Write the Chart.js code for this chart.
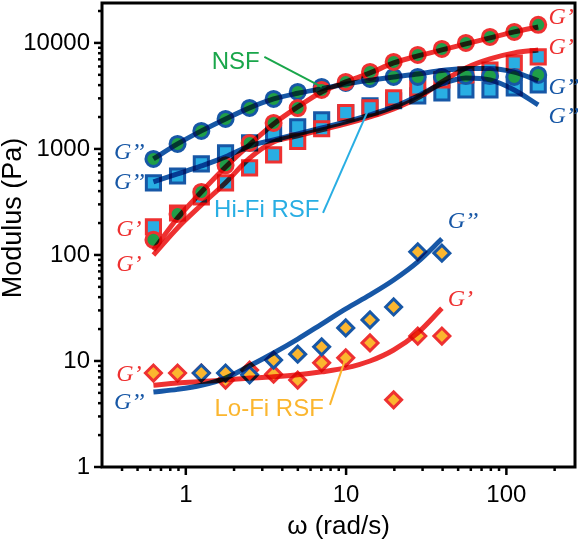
<!DOCTYPE html>
<html>
<head>
<meta charset="utf-8">
<script src="https://cdn.jsdelivr.net/npm/chart.js@4.4.1/dist/chart.umd.min.js"></script>
<style>
  html, body { margin: 0; padding: 0; background: #fff; }
</style>
</head>
<body>
<canvas id="modulus-chart" width="578" height="542"></canvas>
<script>
// angular frequency (rad/s)
const omega = [0.628, 0.888, 1.25, 1.77, 2.5, 3.53, 4.99, 7.04, 9.95, 14.1, 19.8, 28, 39.6, 55.9, 79, 112, 158];
const omegaLoFi = [0.628, 0.888, 1.25, 1.77, 2.5, 3.53, 4.99, 7.04, 9.95, 14.1, 19.8, 28, 39.6];

// NSF measured G' / G''
const nsfG1 = [139, 244, 393, 700, 1140, 1758, 2430, 3600, 4285, 5325, 6620, 7710, 8780, 10000, 11400, 12700, 14800];
const nsfG2 = [805, 1115, 1479, 1920, 2437, 2965, 3450, 3845, 4195, 4570, 4780, 4780, 4780, 4885, 4885, 4780, 4990];
// Hi-Fi RSF measured
const hifiG1 = [184, 249, 352, 478, 662, 878, 1180, 1550, 2200, 2437, 3030, 3760, 4480, 4990, 5560, 6470, 7380];
const hifiG2 = [478, 556, 722, 920, 1140, 1400, 1613, 1878, 2186, 2550, 2850, 3162, 3375, 3604, 3604, 3760, 4016];
// Lo-Fi RSF measured
const lofiG1 = [7.7, 7.7, 7.7, 6.6, 8.2, 7.5, 6.6, 9.6, 10.7, 14.8, 4.3, 17.2, 17.2];
const lofiG2 = [null, null, 7.7, 7.7, 7.4, 10.2, 11.6, 13.6, 20.5, 24.4, 32.3, 107, 104];

// model curves
const nsfG1Fit = [111, 223, 393, 676, 1100, 1720, 2490, 3450, 4285, 5210, 6470, 7540, 8590, 9800, 11150, 12700, 14150];
const nsfG2Fit = [805, 1115, 1480, 1920, 2440, 2960, 3350, 3700, 4100, 4450, 4780, 5100, 5500, 5750, 5750, 5300, 4400];
const hifiG1Fit = [100, 180, 296, 480, 820, 1164, 1327, 1511, 1721, 2004, 2384, 3030, 4285, 5808, 7063, 8050, 8590];
const hifiG2Fit = [489, 581, 691, 841, 1067, 1216, 1385, 1578, 1798, 2094, 2490, 3162, 4105, 4677, 4480, 3600, 2600];
const lofiG1Fit = [5.9, 6.2, 6.4, 6.6, 6.9, 7.1, 7.4, 7.9, 8.6, 10, 12.7, 18.4, 31.4];
const lofiG2Fit = [5.1, 5.4, 5.9, 6.9, 9.0, 11.9, 16.1, 22.3, 31, 42, 58, 86, 142];

const RED = '#ee3131';
const BLUE = '#1757a6';
const GREEN = '#1f9e48';
const LIGHTBLUE = '#29aee3';
const ORANGE = '#fbb62f';
const SANS = '"Liberation Sans", Arial, sans-serif';

function pts(xs, ys) {
  return xs.map((x, i) => ({x: x, y: ys[i]})).filter(p => p.y != null);
}

function isMajor(v) {
  const l = Math.log10(v);
  return Math.abs(l - Math.round(l)) < 1e-6;
}

// minor + major tick positions for a log axis
function logTicks(min, max) {
  const out = [];
  for (let e = Math.floor(Math.log10(min)); e <= Math.ceil(Math.log10(max)); e++) {
    for (let m = 1; m <= 9; m++) {
      const v = +(m * Math.pow(10, e)).toPrecision(6);
      if (v >= min && v <= max) out.push({value: v, major: isMajor(v)});
    }
  }
  return out;
}

function markers(label, xs, ys, style, radius, fill, edge, order) {
  return {
    label: label,
    data: pts(xs, ys),
    showLine: false,
    pointStyle: style,
    pointRadius: radius,
    pointBackgroundColor: fill,
    pointBorderColor: edge,
    pointBorderWidth: 3,
    order: order
  };
}

function curve(label, xs, ys, color) {
  return {
    label: label,
    data: pts(xs, ys),
    showLine: true,
    isFit: true,
    borderColor: color,
    borderWidth: 5,
    pointRadius: 0,
    cubicInterpolationMode: 'monotone',
    order: 0
  };
}

// text notes, anchored in data units
const notes = [
  {text: 'G’’', color: BLUE, x: 0.553, y: 916, align: 'right', serif: true},
  {text: 'G’’', color: BLUE, x: 0.553, y: 477, align: 'right', serif: true},
  {text: 'G’', color: RED, x: 0.53, y: 172, align: 'right', serif: true},
  {text: 'G’', color: RED, x: 0.53, y: 80.5, align: 'right', serif: true},
  {text: 'G’', color: RED, x: 0.53, y: 7.38, align: 'right', serif: true},
  {text: 'G’’', color: BLUE, x: 0.553, y: 4.0, align: 'right', serif: true},
  {text: 'G’', color: RED, x: 183, y: 17200, align: 'left', serif: true},
  {text: 'G’', color: RED, x: 183, y: 8970, align: 'left', serif: true},
  {text: 'G’’', color: BLUE, x: 183, y: 3760, align: 'left', serif: true},
  {text: 'G’’', color: BLUE, x: 183, y: 2004, align: 'left', serif: true},
  {text: 'G’’', color: BLUE, x: 43, y: 205, align: 'left', serif: true},
  {text: 'G’', color: RED, x: 43, y: 37.6, align: 'left', serif: true},
  {text: 'NSF', color: '#1aa64b', x: 2.05, y: 6620, align: 'center'},
  {text: 'Hi-Fi RSF', color: LIGHTBLUE, x: 3.2, y: 266, align: 'center'},
  {text: 'Lo-Fi RSF', color: ORANGE, x: 3.31, y: 3.52, align: 'center'}
];
const leaders = [
  {color: '#1aa64b', from: [3.09, 7380], to: [omega[7], nsfG2[7]]},
  {color: LIGHTBLUE, from: [7.18, 249], to: [omega[9], hifiG2[9]]},
  {color: ORANGE, from: [7.93, 3.85], to: [omegaLoFi[8], lofiG1[8]]}
];

const decorations = {
  id: 'decorations',
  beforeDatasetDraw(chart, args) {
    chart.ctx.save();
    if (chart.data.datasets[args.index].isFit) {
      chart.ctx.globalCompositeOperation = 'multiply';
    }
  },
  afterDatasetDraw(chart) {
    chart.ctx.restore();
  },
  afterDraw(chart) {
    const {ctx, chartArea: a, scales: {x, y}} = chart;
    ctx.save();
    ctx.strokeStyle = '#000';
    ctx.lineWidth = 2.5;
    x.ticks.forEach(t => {
      const px = x.getPixelForValue(t.value);
      ctx.beginPath();
      ctx.moveTo(px, a.bottom);
      ctx.lineTo(px, a.bottom + (isMajor(t.value) ? 8 : 4));
      ctx.stroke();
    });
    y.ticks.forEach(t => {
      const py = y.getPixelForValue(t.value);
      ctx.beginPath();
      ctx.moveTo(a.left, py);
      ctx.lineTo(a.left - (isMajor(t.value) ? 8 : 4), py);
      ctx.stroke();
    });
    ctx.lineWidth = 3;
    ctx.strokeRect(a.left, a.top, a.right - a.left, a.bottom - a.top);

    // y axis title, sitting a little above the axis middle
    ctx.save();
    ctx.translate(14, (a.top + a.bottom) / 2 - 17);
    ctx.rotate(-Math.PI / 2);
    ctx.fillStyle = '#000';
    ctx.font = '27px ' + SANS;
    ctx.textAlign = 'center';
    ctx.textBaseline = 'middle';
    ctx.fillText('Modulus (Pa)', 0, 0);
    ctx.restore();

    ctx.lineWidth = 2;
    leaders.forEach(l => {
      ctx.strokeStyle = l.color;
      ctx.beginPath();
      ctx.moveTo(x.getPixelForValue(l.from[0]), y.getPixelForValue(l.from[1]));
      ctx.lineTo(x.getPixelForValue(l.to[0]), y.getPixelForValue(l.to[1]));
      ctx.stroke();
    });

    ctx.textBaseline = 'middle';
    notes.forEach(n => {
      ctx.font = n.serif ? 'italic 24px "Liberation Serif", "Times New Roman", serif'
                         : '24px ' + SANS;
      ctx.fillStyle = n.color;
      ctx.textAlign = n.align;
      ctx.fillText(n.text, x.getPixelForValue(n.x), y.getPixelForValue(n.y));
    });
    ctx.restore();
  }
};

const ctx = document.getElementById('modulus-chart');
const chart = new Chart(ctx, {
  type: 'scatter',
  data: {
    datasets: [
      curve('NSF G′ fit', omega, nsfG1Fit, RED),
      curve('NSF G″ fit', omega, nsfG2Fit, BLUE),
      curve('Hi-Fi G′ fit', omega, hifiG1Fit, RED),
      curve('Hi-Fi G″ fit', omega, hifiG2Fit, BLUE),
      curve('Lo-Fi G′ fit', omegaLoFi, lofiG1Fit, RED),
      curve('Lo-Fi G″ fit', omegaLoFi, lofiG2Fit, BLUE),
      markers('NSF G′', omega, nsfG1, 'circle', 7.5, GREEN, RED, 1),
      markers('NSF G″', omega, nsfG2, 'circle', 7.5, GREEN, BLUE, 2),
      markers('Lo-Fi G″', omegaLoFi, lofiG2, 'rectRot', 8, ORANGE, BLUE, 3),
      markers('Lo-Fi G′', omegaLoFi, lofiG1, 'rectRot', 8, ORANGE, RED, 4),
      markers('Hi-Fi G′', omega, hifiG1, 'rect', 10, LIGHTBLUE, RED, 5),
      markers('Hi-Fi G″', omega, hifiG2, 'rect', 10, LIGHTBLUE, BLUE, 6)
    ]
  },
  options: {
    responsive: false,
    animation: false,
    layout: {autoPadding: false, padding: {left: 0, right: 3, top: 3, bottom: 0}},
    plugins: {
      legend: {display: false},
      tooltip: {enabled: false}
    },
    scales: {
      x: {
        type: 'logarithmic',
        min: 0.343,
        max: 268,
        afterBuildTicks: s => { s.ticks = logTicks(0.343, 268); },
        afterFit: s => { s.height = 75; s.paddingLeft = 0; s.paddingRight = 0; },
        grid: {display: false, drawTicks: false},
        border: {display: false},
        ticks: {
          autoSkip: false,
          maxRotation: 0,
          padding: 14,
          color: '#000',
          font: {family: SANS, size: 24},
          callback: v => isMajor(v) ? String(Math.round(v)) : ''
        },
        title: {
          display: true,
          text: 'ω (rad/s)',
          color: '#000',
          padding: {top: 0, bottom: 2},
          font: {family: SANS, size: 26, lineHeight: 1}
        }
      },
      y: {
        type: 'logarithmic',
        min: 1,
        max: 23800,
        afterBuildTicks: s => { s.ticks = logTicks(1, 23800); },
        afterFit: s => { s.width = 102; s.paddingTop = 0; s.paddingBottom = 0; },
        grid: {display: false, drawTicks: false},
        border: {display: false},
        ticks: {
          autoSkip: false,
          padding: 12,
          color: '#000',
          font: {family: SANS, size: 24},
          callback: v => isMajor(v) ? String(Math.round(v)) : ''
        }
      }
    }
  },
  plugins: [decorations]
});
</script>
</body>
</html>
